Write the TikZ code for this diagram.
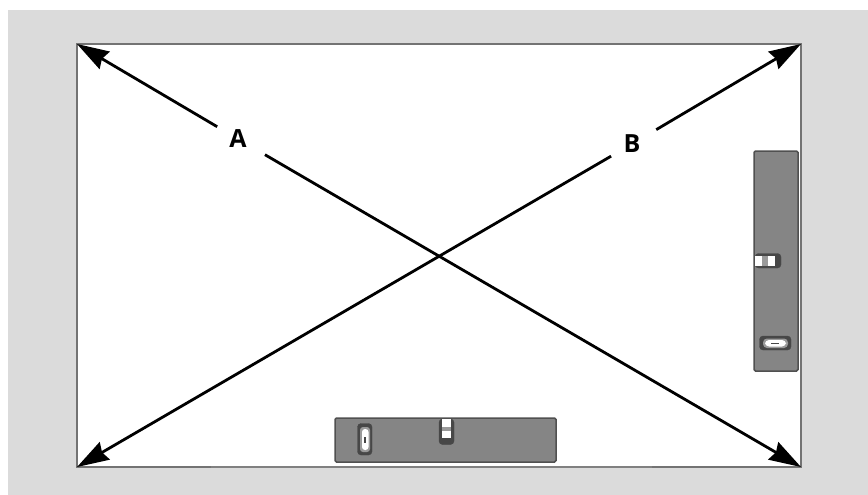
\documentclass[tikz,border=0pt]{standalone}
\usepackage{fontspec}
\setmainfont{Open Sans}
\usetikzlibrary{arrows.meta,shapes.geometric}
\definecolor{bggray}{HTML}{DBDBDB}
\definecolor{levelbody}{HTML}{858585}
\definecolor{levelrim}{HTML}{505050}
\definecolor{vialdark}{HTML}{474747}
\definecolor{vialmid}{HTML}{9A9A9A}
\tikzset{
  x=1pt,y=-1pt,
  diag/.style={line width=2.8pt,black,-{Stealth[length=32pt,width=20pt,inset=3pt]}},
  lab/.style={circle,minimum size=48pt,inner sep=0pt,font=\bfseries\fontsize{25}{28}\selectfont},
  levelbar/.style={draw=levelrim,line width=1.5pt,fill=levelbody,rounded corners=1.5pt,outer sep=0pt},
  vialouter/.style={fill=vialdark,draw=vialdark,rounded corners=3.5pt},
  bubble/.style={fill=vialmid,draw=none}
}
\begin{document}
\begin{tikzpicture}
\useasboundingbox (0,0) rectangle (868,495);
\fill[bggray] (8,10) rectangle (868,495);
\node[draw=gray!90!black,line width=1.2pt,fill=white,minimum width=724pt,minimum height=423pt,inner sep=0pt,outer sep=0pt,anchor=north west] (frame) at (77,44) {};
\coordinate (tl) at (frame.north west);
\coordinate (tr) at (frame.north east);
\coordinate (bl) at (frame.south west);
\coordinate (br) at (frame.south east);
\draw[gray,line width=1.5pt] (211,467) -- (652,467);
% bottom level
\node[levelbar,minimum width=221pt,minimum height=44pt,inner sep=0pt,anchor=north west] (lev1) at (335,418) {};
\fill[vialouter] (357.5,423.5) rectangle (372,455);
\fill[vialmid,rounded corners=3pt] (360,427) rectangle (370,452);
\fill[white,rounded corners=3pt] (362,429) rectangle (368.5,450);
\fill[vialdark] (364,436.5) rectangle (365.5,443);
\fill[vialouter] (439,419) -- (454,419) -- (454,444.5) -- (439,444.5) -- cycle;
\fill[white] (442,419) rectangle (451,438);
\fill[bubble] (441.5,426.5) rectangle (451,431);
% right level
\node[levelbar,minimum width=44pt,minimum height=220pt,inner sep=0pt,anchor=north west] (lev2) at (754,151) {};
\fill[vialouter] (755,253.5) -- (781,253.5) -- (781,268) -- (755,268) -- cycle;
\fill[white] (755,256) rectangle (775,265.5);
\fill[bubble] (762,256) rectangle (768,265.5);
\fill[vialouter] (759.5,336) -- (791,336) -- (791,350) -- (759.5,350) -- cycle;
\fill[vialmid,rounded corners=4pt] (763,338.5) rectangle (788,348);
\fill[white,rounded corners=4pt] (765,340) rectangle (786,346.5);
\fill[vialdark] (771,342.5) rectangle (779,344);
% labels and arrows
\node[lab] (A) at (238,139) {A};
\node[lab] (B) at (632,144) {B};
\draw[diag] (A) -- (tl);
\draw[diag,shorten <=7pt] (A) -- (br);
\draw[diag] (B) -- (bl);
\draw[diag,shorten <=4pt] (B) -- (tr);
\end{tikzpicture}
\end{document}
